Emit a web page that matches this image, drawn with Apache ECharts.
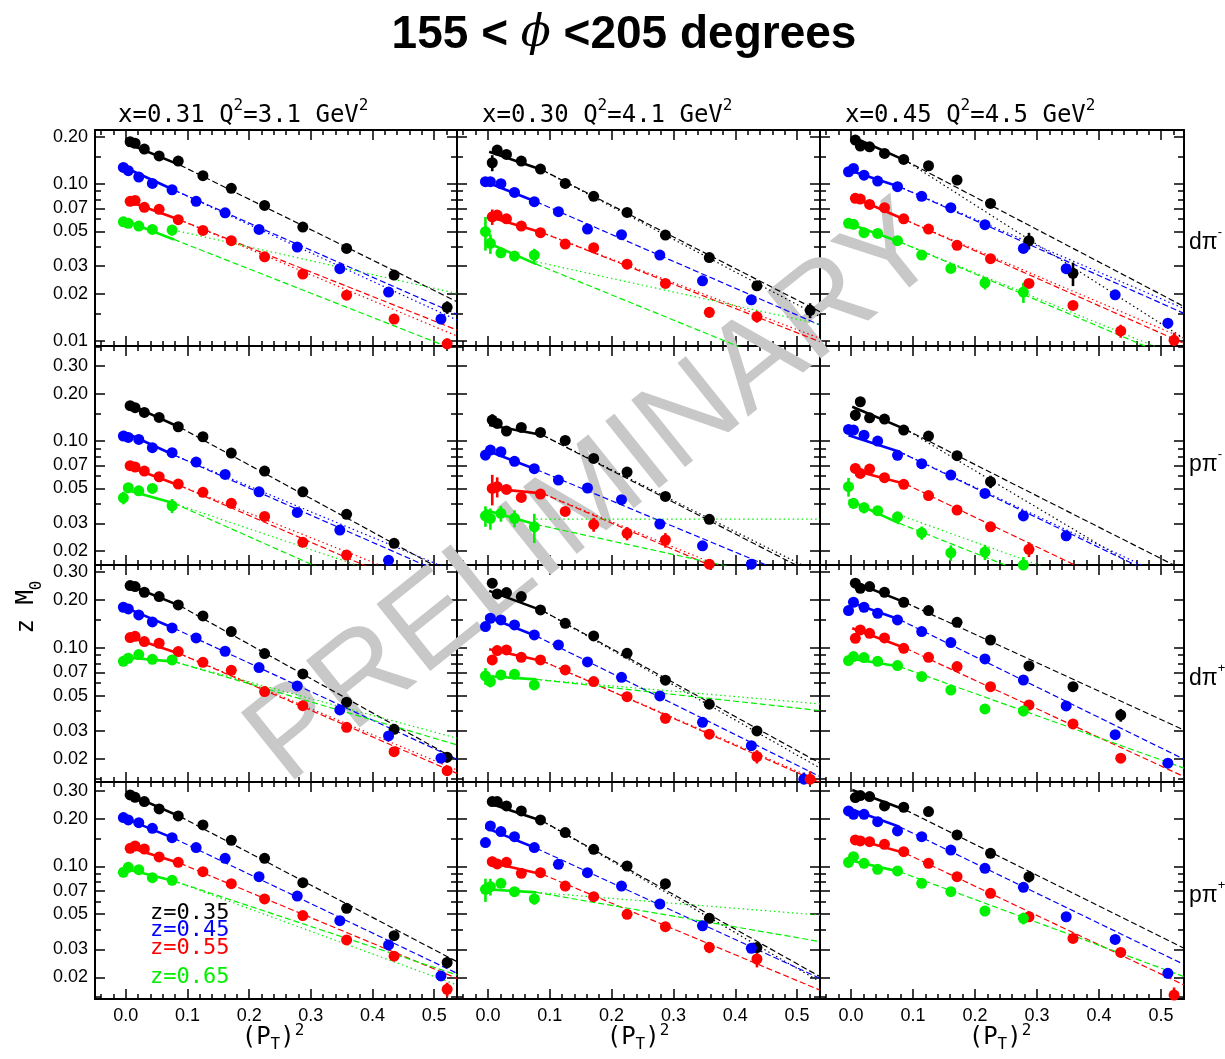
<!DOCTYPE html>
<html><head><meta charset="utf-8">
<script src="https://cdn.jsdelivr.net/npm/echarts@6/dist/echarts.min.js"></script>
<style>html,body{margin:0;padding:0;background:#fff}#c{width:1225px;height:1059px}</style>
</head><body><div id="c"></div>
<script>
// ---- bins of (P_T)^2 (z=0.35 & 0.55 use xA, z=0.45 & 0.65 use xB)
const xA = [0.007, 0.015, 0.030, 0.054, 0.085, 0.125, 0.171, 0.225, 0.287, 0.358, 0.435, 0.521];
const xB = [-0.004, 0.004, 0.021, 0.043, 0.075, 0.114, 0.161, 0.216, 0.278, 0.347, 0.426, 0.511];
const fitRangeA = [0.002, 0.088];
const fitRangeB = [-0.004, 0.078];
const xFitEnd = 0.537;
const zNames = ['z=0.35', 'z=0.45', 'z=0.55', 'z=0.65'];
const colX = ['0.31', '0.30', '0.45'];
const colQ2 = ['3.1', '4.1', '4.5'];
const rowTarget = ['d', 'p', 'd', 'p'];
const rowCharge = ['-', '-', '+', '+'];
const xTickValues = [0, 0.1, 0.2, 0.3, 0.4, 0.5];
const xMinorValues = [-0.04, -0.02, 0.02, 0.04, 0.06, 0.08, 0.12, 0.14, 0.16, 0.18, 0.22, 0.24, 0.26, 0.28, 0.32, 0.34, 0.36, 0.38, 0.42, 0.44, 0.46, 0.48, 0.52];
const yLabelValues = [0.01, 0.02, 0.03, 0.05, 0.07, 0.1, 0.2, 0.3];
const yMinorValues = [0.015, 0.04, 0.06, 0.08, 0.09, 0.15, 0.4];
const rowYMin = [0.0093, 0.0163, 0.0143, 0.0146];
const rowYMax = [0.221, 0.402, 0.333, 0.341];
const xMin = -0.05, xMax = 0.537;

// ---- values: [z=0.35, z=0.45, z=0.55, z=0.65]
// error bars: [seriesIdx, pointIdx, halfWidth]
// fits: [y at fit start, y at fit end, dashed end, dotted end, dotted start]
const pts_r1c1 = [
  [0.186, 0.182, 0.167, 0.151, 0.140, 0.113, 0.094, 0.0731, 0.0532, 0.0389, 0.0263, 0.0164],
  [0.1276, 0.1216, 0.1109, 0.1009, 0.0920, 0.0776, 0.0656, 0.0514, 0.0397, 0.0289, 0.0205, 0.0138],
  [0.0776, 0.0787, 0.0711, 0.0690, 0.0593, 0.0507, 0.0436, 0.0344, 0.0267, 0.0196, 0.0138, 0.0096],
  [0.0575, 0.0562, 0.0540, 0.0514, 0.0509]];
const err_r1c1 = [[0, 11, 0.0015], [2, 11, 0.0008], [3, 4, 0.004]];
const fit_r1c1 = [[0.182, 0.132, 0.0178, null], [0.129, 0.0916, 0.0148, 0.0136], [0.0783, 0.059, 0.01175, 0.01076], [0.059, 0.0444, 0.0087, 0.0201, 0.0509]];

const pts_r1c2 = [
  [0.1367, 0.1647, 0.1545, 0.140, 0.1246, 0.101, 0.0835, 0.066, 0.0473, 0.034, 0.0225, 0.0157],
  [0.1035, 0.1035, 0.1005, 0.0885, 0.0772, 0.0667, 0.0517, 0.0476, 0.0353, 0.0242, 0.0183],
  [0.0619, 0.0635, 0.0601, 0.054, 0.049, 0.0415, 0.0393, 0.0309, 0.0233, 0.01524, 0.0143],
  [0.0497, 0.0419, 0.0365, 0.0348, 0.0353]];
const err_r1c2 = [[0, 0, 0.016], [0, 11, 0.0017], [1, 0, 0.004], [2, 0, 0.007], [2, 9, 0.0012], [2, 10, 0.0012], [3, 0, 0.012], [3, 1, 0.006], [3, 2, 0.0026], [3, 3, 0.0026], [3, 4, 0.0034]];
const fit_r1c2 = [[0.1606, 0.1228, 0.01538, 0.0143], [0.1035, 0.0772, 0.01265, null], [0.0619, 0.049, 0.0099, 0.0104], [0.0429, 0.0309, 0.00567, 0.0128, 0.032]];

const pts_r1c3 = [
  [0.1906, 0.1746, 0.1728, 0.1568, 0.1436, 0.1308, 0.106, 0.0753, 0.0436, 0.027],
  [0.1198, 0.1258, 0.114, 0.1045, 0.0962, 0.0835, 0.0707, 0.0551, 0.0389, 0.0289, 0.0197, 0.0130],
  [0.0811, 0.0803, 0.0742, 0.0707, 0.0601, 0.0517, 0.0407, 0.0335, 0.0233, 0.01687, 0.0116, 0.0101],
  [0.0562, 0.0554, 0.049, 0.0485, 0.0436, 0.0353, 0.029, 0.0235, 0.0205]];
const err_r1c3 = [[0, 0, 0.01], [0, 8, 0.0053], [0, 9, 0.0046], [2, 0, 0.004], [2, 10, 0.0011], [2, 11, 0.0012], [3, 0, 0.0035], [3, 1, 0.0035], [3, 7, 0.0022], [3, 8, 0.003]];
const fit_r1c3 = [[0.2, 0.141, 0.0166, 0.0104], [0.1228, 0.0962, 0.015, 0.0161], [0.083, 0.059, 0.00966, 0.0104], [0.0562, 0.0429, 0.00728, 0.00776]];

const pts_r2c1 = [
  [0.1677, 0.163, 0.152, 0.1414, 0.1233, 0.1065, 0.0839, 0.0645, 0.0476, 0.0342, 0.0224],
  [0.1076, 0.1055, 0.1024, 0.0907, 0.0843, 0.0735, 0.0614, 0.0476, 0.0352, 0.0272, 0.01745],
  [0.0697, 0.0684, 0.0645, 0.0593, 0.0533, 0.0472, 0.0402, 0.0332, 0.0227, 0.01886],
  [0.0436, 0.0505, 0.0483, 0.050, 0.0388]];
const err_r2c1 = [[0, 10, 0.0013], [3, 0, 0.004], [3, 4, 0.004]];
const fit_r2c1 = [[0.1735, 0.122, 0.0135, null], [0.1146, 0.0815, 0.0132, 0.01463], [0.0694, 0.052, 0.00903, 0.0104], [0.0495, 0.0402, 0.00638, 0.0099]];

const pts_r2c2 = [
  [0.136, 0.1295, 0.1158, 0.1221, 0.1135, 0.101, 0.0776, 0.0635, 0.0445, 0.0318],
  [0.0815, 0.0877, 0.0855, 0.0743, 0.0667, 0.0565, 0.0503, 0.0424, 0.0297, 0.0216, 0.0165],
  [0.050, 0.0513, 0.0493, 0.0438, 0.046, 0.0357, 0.0295, 0.0259, 0.0235, 0.0165],
  [0.0335, 0.0323, 0.0347, 0.0323, 0.0285]];
const err_r2c2 = [[0, 0, 0.012], [0, 9, 0.002], [1, 0, 0.006], [2, 0, 0.011], [2, 1, 0.0075], [2, 6, 0.003], [2, 7, 0.0025], [2, 8, 0.0025], [3, 0, 0.005], [3, 1, 0.005], [3, 2, 0.004], [3, 3, 0.004], [3, 4, 0.006]];
const fit_r2c2 = [[0.1264, 0.1092, 0.0136, 0.0143], [0.0877, 0.066, 0.01175, null], [0.050, 0.0465, 0.00815, 0.0088], [0.0364, 0.0295, 0.0119, 0.0319, 0.0319]];

const pts_r2c3 = [
  [0.1463, 0.1778, 0.1406, 0.138, 0.1175, 0.1076, 0.0807, 0.0552],
  [0.1186, 0.1175, 0.109, 0.100, 0.0811, 0.0718, 0.0608, 0.0465, 0.0334, 0.025],
  [0.067, 0.0623, 0.0664, 0.0585, 0.0531, 0.045, 0.0364, 0.0285, 0.0205],
  [0.0513, 0.0402, 0.0377, 0.0361, 0.033, 0.0261, 0.0195, 0.0197, 0.0163]];
const err_r2c3 = [[0, 0, 0.012], [0, 4, 0.006], [0, 7, 0.005], [1, 0, 0.005], [2, 0, 0.005], [2, 8, 0.0022], [3, 0, 0.007], [3, 1, 0.003], [3, 2, 0.003], [3, 5, 0.0025], [3, 6, 0.0022], [3, 7, 0.0022], [3, 8, 0.002]];
const fit_r2c3 = [[0.1652, 0.1186, 0.0151, 0.0105], [0.109, 0.0855, 0.0116, 0.0122], [0.0654, 0.0533, 0.00758, null], [0.0422, 0.030, 0.0058, 0.0076, 0.0339]];

const pts_r3c1 = [
  [0.247, 0.2436, 0.2243, 0.2107, 0.1866, 0.1591, 0.1267, 0.0921, 0.0686, 0.0455, 0.0307, 0.0205],
  [0.1804, 0.1762, 0.1615, 0.1458, 0.1337, 0.1156, 0.0953, 0.0752, 0.0576, 0.0407, 0.0279, 0.0202],
  [0.1162, 0.1184, 0.1096, 0.107, 0.0948, 0.0812, 0.0723, 0.0531, 0.0433, 0.0316, 0.0222, 0.01686],
  [0.0824, 0.0861, 0.0908, 0.0848, 0.084]];
const err_r3c1 = [[0, 11, 0.0015]];
const fit_r3c1 = [[0.252, 0.184, 0.0197, null], [0.1822, 0.133, 0.0199, null], [0.119, 0.0917, 0.0162, 0.017], [0.0873, 0.082, 0.0245, 0.027]];

const pts_r3c2 = [
  [0.2557, 0.2188, 0.2232, 0.2107, 0.1736, 0.143, 0.119, 0.0925, 0.0626, 0.0442, 0.030],
  [0.1363, 0.1538, 0.1501, 0.1396, 0.1208, 0.1044, 0.0816, 0.0653, 0.0498, 0.034, 0.0242, 0.0149],
  [0.084, 0.0962, 0.0971, 0.0873, 0.084, 0.0727, 0.0614, 0.0493, 0.036, 0.0286, 0.0207, 0.0149],
  [0.0666, 0.0614, 0.0676, 0.0682, 0.0585]];
const err_r3c2 = [[0, 0, 0.015], [1, 0, 0.008], [1, 11, 0.0015], [2, 0, 0.006], [2, 8, 0.0025], [2, 9, 0.0018], [2, 10, 0.002], [2, 11, 0.0018], [3, 0, 0.008], [3, 1, 0.005], [3, 3, 0.004], [3, 4, 0.004]];
const fit_r3c2 = [[0.2287, 0.1718, 0.0188, 0.0175], [0.159, 0.119, 0.01546, null], [0.098, 0.0828, 0.01416, 0.0145], [0.0666, 0.0634, 0.0403, 0.0444]];

const pts_r3c3 = [
  [0.2557, 0.2377, 0.2436, 0.2243, 0.194, 0.1718, 0.1451, 0.1122, 0.077, 0.057, 0.0378],
  [0.1718, 0.194, 0.1804, 0.1654, 0.1501, 0.1267, 0.1081, 0.0853, 0.0628, 0.0431, 0.0284, 0.0188],
  [0.115, 0.1299, 0.1237, 0.1156, 0.0995, 0.0873, 0.0763, 0.057, 0.0437, 0.0332, 0.0202],
  [0.0832, 0.0882, 0.0869, 0.0824, 0.0774, 0.066, 0.0543, 0.0413, 0.0401]];
const err_r3c3 = [[0, 8, 0.005], [0, 9, 0.004], [0, 10, 0.0035], [2, 0, 0.006], [3, 0, 0.005], [3, 8, 0.003]];
const fit_r3c3 = [[0.262, 0.193, 0.0304, null], [0.196, 0.151, 0.0199, null], [0.133, 0.0995, 0.01546, null], [0.0861, 0.0763, 0.0175, null]];

const pts_r4c1 = [
  [0.2825, 0.2732, 0.2565, 0.2306, 0.2083, 0.1827, 0.1462, 0.1126, 0.0791, 0.0545, 0.0366, 0.0248],
  [0.2033, 0.1965, 0.1890, 0.1741, 0.152, 0.1315, 0.1126, 0.0863, 0.0651, 0.0455, 0.032, 0.0204],
  [0.1302, 0.1347, 0.1289, 0.1148, 0.1062, 0.0928, 0.0779, 0.0624, 0.049, 0.0344, 0.0272, 0.0168],
  [0.0919, 0.0988, 0.0955, 0.085, 0.0818]];
const err_r4c1 = [[0, 11, 0.002], [1, 11, 0.0012], [2, 11, 0.0017], [3, 4, 0.004]];
const fit_r4c1 = [[0.2894, 0.2063, 0.0251, null], [0.2033, 0.1505, 0.0212, null], [0.1334, 0.1047, 0.0197, null], [0.0974, 0.081, 0.0207, 0.0179]];

const pts_r4c2 = [
  [0.2565, 0.2565, 0.2409, 0.2239, 0.1965, 0.1635, 0.1283, 0.1007, 0.0779, 0.0471, 0.0308],
  [0.1415, 0.18, 0.1659, 0.1542, 0.1315, 0.1032, 0.0914, 0.0753, 0.058, 0.0423, 0.0305],
  [0.1073, 0.1037, 0.1062, 0.0906, 0.0914, 0.0753, 0.0645, 0.0499, 0.0417, 0.0309, 0.0261],
  [0.0718, 0.0746, 0.0783, 0.0694, 0.0624]];
const err_r4c2 = [[0, 0, 0.012], [1, 0, 0.008], [1, 10, 0.002], [2, 0, 0.008], [2, 6, 0.004], [2, 7, 0.003], [2, 8, 0.003], [2, 9, 0.0025], [2, 10, 0.003], [3, 0, 0.012], [3, 1, 0.009], [3, 3, 0.004], [3, 4, 0.005]];
const fit_r4c2 = [[0.2502, 0.1936, 0.0202, 0.0188], [0.1758, 0.1302, 0.0197, null], [0.1062, 0.0893, 0.0166, null], [0.0718, 0.0687, 0.0336, 0.0494]];

const pts_r4c3 = [
  [0.2718, 0.2799, 0.2758, 0.2409, 0.2363, 0.2218, 0.158, 0.121, 0.0863],
  [0.2239, 0.2134, 0.2134, 0.1918, 0.1675, 0.1542, 0.127, 0.0974, 0.0739, 0.0482, 0.0347, 0.0212],
  [0.147, 0.1449, 0.1434, 0.138, 0.124, 0.1047, 0.0863, 0.0677, 0.0482, 0.0352, 0.0287, 0.01546],
  [0.1062, 0.1153, 0.1047, 0.096, 0.0937, 0.0783, 0.0694, 0.0524, 0.0471]];
const err_r4c3 = [[0, 0, 0.015], [0, 4, 0.01], [0, 7, 0.008], [0, 8, 0.007], [1, 11, 0.0015], [2, 10, 0.002], [2, 11, 0.0018], [3, 0, 0.008], [3, 7, 0.003], [3, 8, 0.004]];
const fit_r4c3 = [[0.304, 0.2273, 0.0305, null], [0.2331, 0.1782, 0.0241, null], [0.1505, 0.121, 0.0179, null], [0.1099, 0.0928, 0.0202, null]];

// ---- layout & style
const zColors = ['#000000', '#0000ff', '#ff0000', '#00f000'];
const gridLeft = [95, 457, 820], gridWidth = [362, 363, 364];
const gridTop = [130, 346, 565, 782], gridHeight = [216, 219, 217, 217];

const panels = [
  [pts_r1c1, err_r1c1, fit_r1c1], [pts_r1c2, err_r1c2, fit_r1c2], [pts_r1c3, err_r1c3, fit_r1c3],
  [pts_r2c1, err_r2c1, fit_r2c1], [pts_r2c2, err_r2c2, fit_r2c2], [pts_r2c3, err_r2c3, fit_r2c3],
  [pts_r3c1, err_r3c1, fit_r3c1], [pts_r3c2, err_r3c2, fit_r3c2], [pts_r3c3, err_r3c3, fit_r3c3],
  [pts_r4c1, err_r4c1, fit_r4c1], [pts_r4c2, err_r4c2, fit_r4c2], [pts_r4c3, err_r4c3, fit_r4c3]];

const labelFont = {fontFamily: 'Liberation Sans', fontSize: 18, color: '#000'};
const grids = [], xAxes = [], yAxes = [], series = [];

function xAxisDef(g, pos, vals, len, showLine, showLabel) {
  return {gridIndex: g, type: 'value', min: xMin, max: xMax, position: pos,
    axisLine: {show: showLine, onZero: false, lineStyle: {color: '#000', width: 2}},
    axisTick: {show: true, inside: true, length: len, customValues: vals, lineStyle: {color: '#000', width: 1.5}},
    axisLabel: Object.assign({show: showLabel, customValues: xTickValues, margin: 8, formatter: v => v.toFixed(1)}, labelFont),
    splitLine: {show: false}};
}
function yAxisDef(g, r, pos, vals, len, showLine, showLabel) {
  return {gridIndex: g, type: 'log', logBase: 10, min: rowYMin[r], max: rowYMax[r], position: pos,
    axisLine: {show: showLine, onZero: false, lineStyle: {color: '#000', width: 2}},
    axisTick: {show: true, inside: true, length: len, customValues: vals, lineStyle: {color: '#000', width: 1.5}},
    axisLabel: Object.assign({show: showLabel, customValues: yLabelValues, margin: 7, formatter: v => v.toFixed(2)}, labelFont),
    splitLine: {show: false}, minorTick: {show: false}};
}
function lineSeries(ai, data, color, width, type, z) {
  return {type: 'line', xAxisIndex: ai, yAxisIndex: ai, data: data, symbol: 'none', silent: true, clip: true, z: z,
    lineStyle: {color: color, width: width, type: type, opacity: 1}, animation: false};
}

panels.forEach((p, g) => {
  const r = Math.floor(g / 3), c = g % 3;
  const [pts, errs, fits] = p;
  grids.push({left: gridLeft[c], top: gridTop[r], width: gridWidth[c], height: gridHeight[r]});
  xAxes.push(xAxisDef(g, 'bottom', xTickValues, 10, true, r === 3));
  xAxes.push(xAxisDef(g, 'bottom', xMinorValues, 5, false, false));
  xAxes.push(xAxisDef(g, 'top', xTickValues, 10, true, false));
  xAxes.push(xAxisDef(g, 'top', xMinorValues, 5, false, false));
  yAxes.push(yAxisDef(g, r, 'left', yLabelValues, 10, true, c === 0));
  yAxes.push(yAxisDef(g, r, 'left', yMinorValues, 6, false, false));
  yAxes.push(yAxisDef(g, r, 'right', yLabelValues, 10, true, false));
  yAxes.push(yAxisDef(g, r, 'right', yMinorValues, 6, false, false));
  const ai = g * 4;
  for (let s = 0; s < 4; s++) {
    const xs = s % 2 === 0 ? xA : xB;
    const fr = s % 2 === 0 ? fitRangeA : fitRangeB;
    const col = zColors[s];
    const f = fits[s];
    series.push(lineSeries(ai, [[fr[0], f[0]], [fr[1], f[1]]], col, 2.6, 'solid', 4));
    series.push(lineSeries(ai, [[fr[1], f[1]], [xFitEnd, f[2]]], col, 1.2, [6, 3], 3));
    if (f[3] != null) {
      series.push(lineSeries(ai, [[fr[1], f.length > 4 ? f[4] : f[1]], [xFitEnd, f[3]]], col, 1.2, [1.5, 3], 3));
    }
    series.push({type: 'scatter', xAxisIndex: ai, yAxisIndex: ai, silent: true, animation: false, z: 6,
      data: pts[s].map((v, i) => [xs[i], v]), symbol: 'circle', symbolSize: 11, itemStyle: {color: col, opacity: 1}});
  }
  const errData = errs.map(e => [(e[0] % 2 === 0 ? xA : xB)[e[1]], pts[e[0]][e[1]], e[2], e[0]]);
  series.push({type: 'custom', xAxisIndex: ai, yAxisIndex: ai, silent: true, animation: false, z: 5, clip: true,
    encode: {x: 0, y: 1}, data: errData,
    renderItem: (params, api) => {
      const x = api.value(0), y = api.value(1), e = api.value(2);
      const a = api.coord([x, y - e]), b = api.coord([x, y + e]);
      return {type: 'line', shape: {x1: a[0], y1: a[1], x2: b[0], y2: b[1]},
        style: {stroke: zColors[api.value(3)], lineWidth: 2.6}};
    }});
});

const monoFont = 'DejaVu Sans Mono';
const sansFont = 'Liberation Sans';
const graphics = [
  {type: 'text', x: 595, y: 495, rotation: 0.675, z: 1, silent: true,
    style: {text: 'PRELIMINARY', fontFamily: sansFont, fontSize: 125, fill: '#c8c8c8', align: 'center', verticalAlign: 'middle'}},
  {type: 'text', x: 624, y: 35, z: 10,
    style: {text: '{a|155 < }{b|ϕ}{a| <205 degrees}', align: 'center', verticalAlign: 'middle',
      rich: {a: {fontFamily: sansFont, fontWeight: 'bold', fontSize: 46, fill: '#000'},
             b: {fontFamily: 'DejaVu Serif', fontStyle: 'italic', fontSize: 44, fill: '#000'}}}},
  {type: 'text', x: 30, y: 607, rotation: Math.PI / 2, z: 10,
    style: {text: '{a|z M}{b|0}', align: 'center', verticalAlign: 'middle',
      rich: {a: {fontFamily: monoFont, fontSize: 24, lineHeight: 30, verticalAlign: 'top', fill: '#000'},
             b: {fontFamily: monoFont, fontSize: 16, lineHeight: 16, verticalAlign: 'bottom', fill: '#000'}}}}
];
const supRich = {
  a: {fontFamily: monoFont, fontSize: 24, lineHeight: 30, verticalAlign: 'bottom', fill: '#000'},
  s: {fontFamily: monoFont, fontSize: 16, lineHeight: 16, verticalAlign: 'top', fill: '#000'}};
[118, 482, 845].forEach((x, i) => graphics.push({type: 'text', x: x, y: 113, z: 10,
  style: {text: '{a|x=' + colX[i] + ' Q}{s|2}{a|=' + colQ2[i] + ' GeV}{s|2}', rich: supRich, align: 'left', verticalAlign: 'middle'}}));
[240, 462, 676, 893].forEach((y, i) => graphics.push({type: 'text', x: 1189, y: y, z: 10,
  style: {text: '{a|' + rowTarget[i] + 'π}{s|' + rowCharge[i] + '}', align: 'left', verticalAlign: 'middle',
    rich: {a: {fontFamily: sansFont, fontSize: 23, lineHeight: 28, verticalAlign: 'bottom', fill: '#000'},
           s: {fontFamily: sansFont, fontSize: 13, lineHeight: 13, verticalAlign: 'top', fill: '#000'}}}}));
[273, 638, 1000].forEach(x => graphics.push({type: 'text', x: x, y: 1038, z: 10,
  style: {text: '{a|(P}{b|T}{a|)}{s|2}', align: 'center', verticalAlign: 'middle',
    rich: {a: {fontFamily: monoFont, fontSize: 24, lineHeight: 30, verticalAlign: 'middle', fill: '#000'},
           b: {fontFamily: monoFont, fontSize: 16, lineHeight: 16, verticalAlign: 'bottom', fill: '#000'},
           s: {fontFamily: monoFont, fontSize: 16, lineHeight: 16, verticalAlign: 'top', fill: '#000'}}}}));
[913, 930, 948, 977].forEach((y, i) => graphics.push({type: 'text', x: 150, y: y, z: 10,
  style: {text: zNames[i], fontFamily: monoFont, fontSize: 22, fill: zColors[i], align: 'left', verticalAlign: 'middle'}}));

const chart = echarts.init(document.getElementById('c'), null, {renderer: 'canvas'});
chart.setOption({
  animation: false,
  backgroundColor: '#ffffff',
  grid: grids, xAxis: xAxes, yAxis: yAxes, series: series, graphic: graphics
});
</script></body></html>
